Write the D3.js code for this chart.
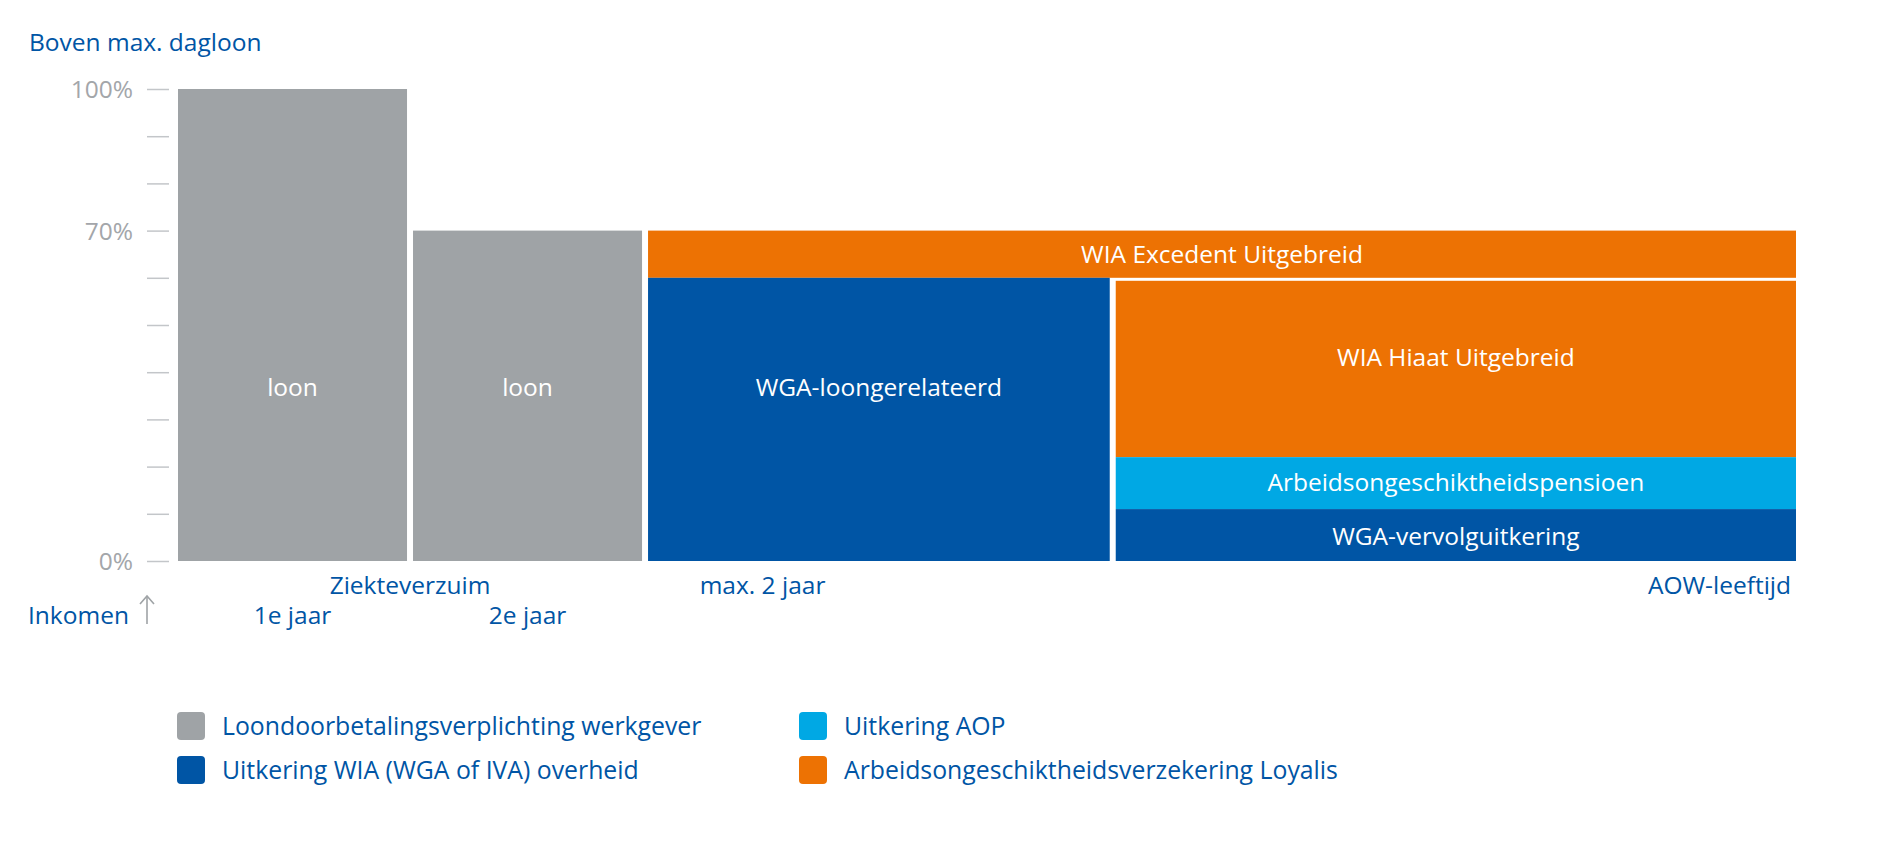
<!DOCTYPE html>
<html>
<head>
<meta charset="utf-8">
<script src="https://cdn.jsdelivr.net/npm/d3@7"></script>
<style>
  html, body { margin: 0; padding: 0; background: #ffffff; }
  svg { display: block; font-family: "Open Sans", "Noto Sans", sans-serif; }
</style>
</head>
<body>
<svg id="chart" width="1890" height="858"></svg>
<script>
// ---------- data ----------
const xBreaks = [0, 1, 2, 3.99, 6.91];            // period boundaries (years-like units)
const yTicks = [0, 10, 20, 30, 40, 50, 60, 70, 80, 90, 100];
const yTickLabels = {0: "0%", 70: "70%", 100: "100%"};

const seriesNames = [
  "Loondoorbetalingsverplichting werkgever",
  "Uitkering WIA (WGA of IVA) overheid",
  "Uitkering AOP",
  "Arbeidsongeschiktheidsverzekering Loyalis"
];

const segLabels = ["loon", "loon", "WIA Excedent Uitgebreid", "WGA-loongerelateerd",
                   "WIA Hiaat Uitgebreid", "Arbeidsongeschiktheidspensioen", "WGA-vervolguitkering"];
const segSeries = [0, 0, 3, 1, 3, 2, 1];
const segFrom   = [0, 1, 2, 2, 3.99, 3.99, 3.99];
const segTo     = [1, 2, 6.91, 3.99, 6.91, 6.91, 6.91];
const segLow    = [0, 0, 60, 0, 22, 11, 0];
const segHigh   = [100, 70, 70, 60, 60, 22, 11];
const segLabelAt = [36.7, 36.7, 65, 36.7, 43.2, 16.7, 5.2];

const periodLabels = ["Ziekteverzuim", "max. 2 jaar", "AOW-leeftijd"];
const periodAt = [1, 2.5, 6.91];
const yearLabels = ["1e jaar", "2e jaar"];
const yearAt = [0.5, 1.5];

// ---------- styles ----------
const colors = ["#9fa3a6", "#0055a5", "#00a8e4", "#ed7203"];
const textBlue = "#0055a5";
const greyText = "#a3a6aa";
const FS = 24.5;

const svg = d3.select("#chart");

const x = d3.scaleLinear().domain([0, 6.91]).range([175, 1799]);
const y = d3.scaleLinear().domain([0, 100]).range([561, 89]);
const color = d3.scaleOrdinal().domain(d3.range(4)).range(colors);

const segs = segLabels.map((label, i) => ({
  label, s: segSeries[i], x0: segFrom[i], x1: segTo[i], y0: segLow[i], y1: segHigh[i], ly: segLabelAt[i]
}));

// y axis
const yAxis = d3.axisLeft(y).tickValues(yTicks).tickSize(22).tickPadding(14)
  .tickFormat(d => yTickLabels[d] || "");
const gy = svg.append("g").attr("transform", "translate(169,0)").call(yAxis);
gy.select(".domain").remove();
gy.selectAll(".tick line").attr("stroke", "#c3c6c9").attr("stroke-width", 1.5);
gy.selectAll(".tick text").attr("fill", greyText).attr("font-size", FS)
  .attr("font-family", "'Open Sans', sans-serif").attr("dy", "0.35em");

// title
svg.append("text").attr("x", 29).attr("y", 51).attr("fill", textBlue)
  .attr("font-size", FS).text("Boven max. dagloon");

// bars
const gap = 3;
const underBand = d => d.x0 === xBreaks[3] && d.y1 === 60;
svg.append("g").selectAll("rect").data(segs).join("rect")
  .attr("x", d => x(d.x0) + gap)
  .attr("width", d => x(d.x1) - x(d.x0) - 2 * gap)
  .attr("y", d => y(d.y1) + (underBand(d) ? gap : 0))
  .attr("height", d => y(d.y0) - y(d.y1) - (underBand(d) ? gap : 0))
  .attr("fill", d => color(d.s));

svg.append("g").selectAll("text").data(segs).join("text")
  .attr("x", d => (x(d.x0) + x(d.x1)) / 2)
  .attr("y", d => y(d.ly))
  .attr("dy", "0.35em")
  .attr("text-anchor", "middle")
  .attr("fill", "#ffffff")
  .attr("font-size", FS)
  .text(d => d.label);

// x labels
svg.append("g").selectAll("text").data(periodLabels).join("text")
  .attr("x", (d, i) => i === 2 ? x(periodAt[i]) - 8 : x(periodAt[i]))
  .attr("y", 594)
  .attr("text-anchor", (d, i) => i === 2 ? "end" : "middle")
  .attr("fill", textBlue).attr("font-size", FS)
  .text(d => d);

svg.append("g").selectAll("text").data(yearLabels).join("text")
  .attr("x", (d, i) => x(yearAt[i]))
  .attr("y", 624)
  .attr("text-anchor", "middle")
  .attr("fill", textBlue).attr("font-size", FS)
  .text(d => d);

svg.append("text").attr("x", 28).attr("y", 624).attr("fill", textBlue)
  .attr("font-size", FS).text("Inkomen");

// arrow
const arrow = svg.append("g").attr("stroke", "#9fa3a6").attr("stroke-width", 1.6).attr("fill", "none");
arrow.append("line").attr("x1", 147).attr("x2", 147).attr("y1", 596).attr("y2", 624);
arrow.append("path").attr("d", "M140,604 L147,596 L154,604");

// legend
const legendPos = [[177, 726], [177, 770], [799, 726], [799, 770]];
const lg = svg.append("g").selectAll("g").data(seriesNames).join("g")
  .attr("transform", (d, i) => `translate(${legendPos[i][0]},${legendPos[i][1]})`);
lg.append("rect").attr("x", 0).attr("y", -14).attr("width", 28).attr("height", 28)
  .attr("rx", 4).attr("fill", (d, i) => color(i));
lg.append("text").attr("x", 45).attr("y", 0).attr("dy", "0.35em")
  .attr("fill", textBlue).attr("font-size", 24.8).text(d => d);
</script>
</body>
</html>
